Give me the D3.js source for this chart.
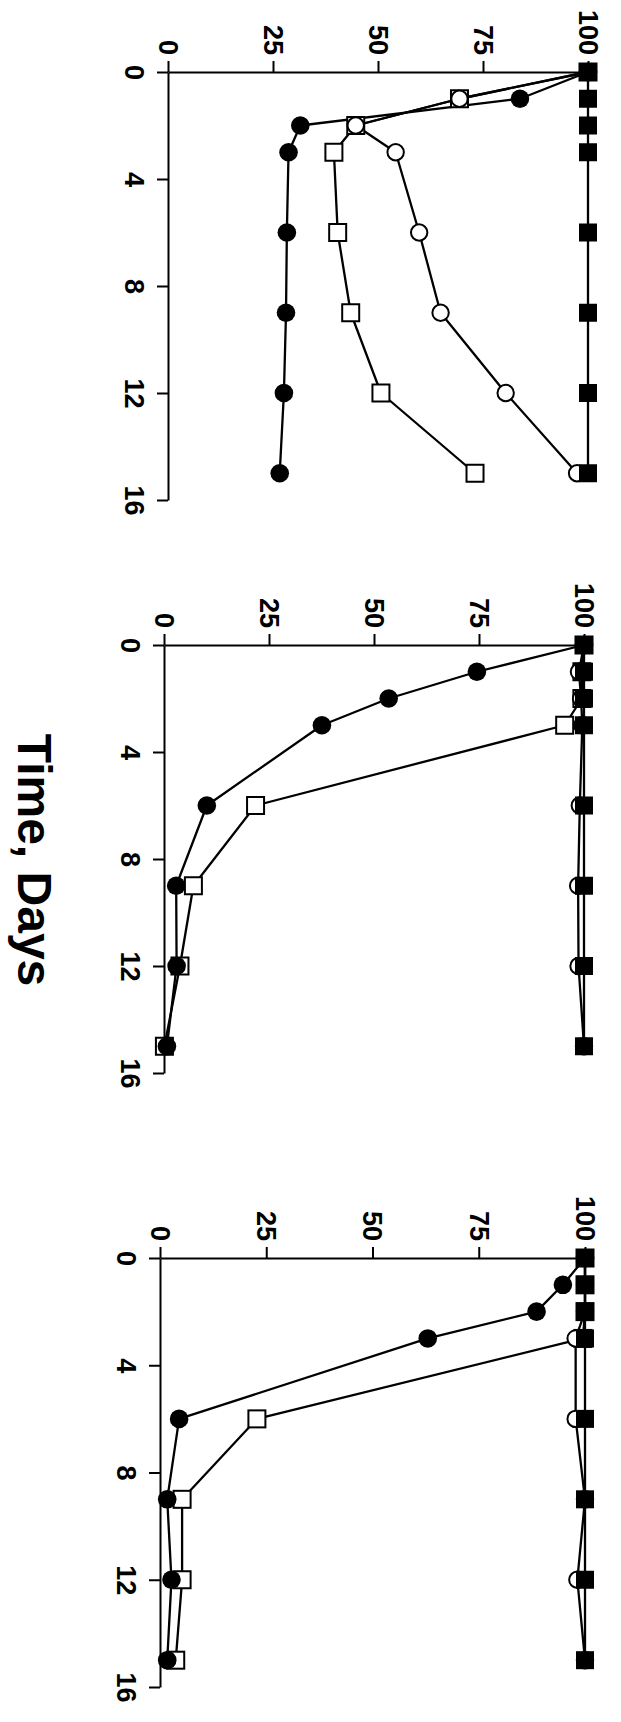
<!DOCTYPE html>
<html>
<head>
<meta charset="utf-8">
<script src="https://cdn.jsdelivr.net/npm/d3@7"></script>
<style>
  html, body { margin: 0; padding: 0; background: #fff; }
  svg { display: block; }
  text { font-family: "Liberation Sans", Arial, Helvetica, sans-serif; font-weight: bold; fill: #000; }
</style>
</head>
<body>
<script>
// ---- data ----
const times = [0, 1, 2, 3, 6, 9, 12, 15];
const valueTicks = [0, 25, 50, 75, 100];
const timeTicks = [0, 4, 8, 12, 16];
const axisTitle = "Time, Days";

// Panel 1 (top)
const p1FilledSquare = [100, 100, 100, 100, 100, 100, 100, 100];
const p1FilledCircle = [100, 83.8, 31.5, 28.7, 28.3, 28.1, 27.6, 26.6];
const p1OpenSquare   = [100, 69.4, 44.7, 39.5, 40.4, 43.5, 50.7, 73.1];
const p1OpenCircle   = [100, 69.4, 44.7, 54.2, 59.8, 64.9, 80.4, 97.4];

// Panel 2 (middle)
const p2FilledSquare = [100, 100, 100, 100, 100, 100, 100, 100];
const p2FilledCircle = [100, 74.5, 53.5, 37.6, 10.2, 2.9, 3.0, 0.7];
const p2OpenSquare   = [100, 99.5, 99.5, 95.4, 21.8, 7.0, 3.8, 0.1];
const p2OpenCircle   = [100, 98.8, 99.3, 99.6, 99.0, 98.6, 98.7, 100];

// Panel 3 (bottom)
const p3FilledSquare = [100, 100, 100, 100, 100, 100, 100, 100];
const p3FilledCircle = [100, 94.8, 88.6, 63.0, 4.5, 1.7, 2.7, 1.7];
const p3OpenSquare   = [100, 100, 100, 99.5, 22.8, 5.2, 5.2, 3.7];
const p3OpenCircle   = [100, 100, 100, 97.8, 97.8, 100, 98.2, 100];

// ---- layout ----
const W = 621, H = 1722;
const panels = [
  { box: { x0: 168, x1: 588, y0: 72,   y1: 500 },  fs: p1FilledSquare, fc: p1FilledCircle, os: p1OpenSquare, oc: p1OpenCircle },
  { box: { x0: 164, x1: 584, y0: 645,  y1: 1073 }, fs: p2FilledSquare, fc: p2FilledCircle, os: p2OpenSquare, oc: p2OpenCircle },
  { box: { x0: 160, x1: 585, y0: 1258, y1: 1687 }, fs: p3FilledSquare, fc: p3FilledCircle, os: p3OpenSquare, oc: p3OpenCircle }
];

const svg = d3.select("body").append("svg").attr("width", W).attr("height", H);

panels.forEach(p => {
  const b = p.box;
  const x = d3.scaleLinear().domain([0, 100]).range([b.x0, b.x1]);
  const y = d3.scaleLinear().domain([0, 16]).range([b.y0, b.y1]);
  const g = svg.append("g");

  // value axis (top)
  const xa = g.append("g").attr("transform", `translate(0,${b.y0})`)
    .call(d3.axisTop(x).tickValues(valueTicks).tickSize(11).tickSizeOuter(0).tickFormat(d3.format("d")));
  xa.select(".domain").attr("stroke", "#000").attr("stroke-width", 2);
  xa.selectAll(".tick line").attr("stroke", "#000").attr("stroke-width", 2);
  xa.selectAll(".tick text")
    .attr("x", 0).attr("y", 0).attr("dy", "0.36em")
    .attr("transform", "translate(0,-17) rotate(90)")
    .attr("text-anchor", "end")
    .style("font-size", "27px");

  // time axis (left)
  const ya = g.append("g").attr("transform", `translate(${b.x0},0)`)
    .call(d3.axisLeft(y).tickValues(timeTicks).tickSize(11).tickSizeOuter(0).tickFormat(d3.format("d")));
  ya.select(".domain").attr("stroke", "#000").attr("stroke-width", 2);
  ya.selectAll(".tick line").attr("stroke", "#000").attr("stroke-width", 2);
  ya.selectAll(".tick text")
    .attr("x", 0).attr("y", 0).attr("dy", "0.36em")
    .attr("transform", "translate(-33,0) rotate(90)")
    .attr("text-anchor", "middle")
    .style("font-size", "27px");

  const line = d3.line().x(d => x(d.v)).y(d => y(d.t));
  const series = [p.os, p.oc, p.fc, p.fs].map(arr => times.map((t, i) => ({ t, v: arr[i] })));

  // lines
  series.forEach(s => {
    g.append("path").datum(s).attr("d", line)
      .attr("fill", "none").attr("stroke", "#000").attr("stroke-width", 2.3).attr("stroke-linejoin", "round");
  });

  // markers: open squares, open circles, filled circles, filled squares
  g.selectAll(".os").data(series[0]).join("rect")
    .attr("x", d => x(d.v) - 8.5).attr("y", d => y(d.t) - 8.5)
    .attr("width", 17).attr("height", 17)
    .attr("fill", "#fff").attr("stroke", "#000").attr("stroke-width", 2);
  g.selectAll(".oc").data(series[1]).join("circle")
    .attr("cx", d => x(d.v)).attr("cy", d => y(d.t)).attr("r", 8.2)
    .attr("fill", "#fff").attr("stroke", "#000").attr("stroke-width", 2);
  g.selectAll(".fc").data(series[2]).join("circle")
    .attr("cx", d => x(d.v)).attr("cy", d => y(d.t)).attr("r", 9.3)
    .attr("fill", "#000");
  g.selectAll(".fs").data(series[3]).join("rect")
    .attr("x", d => x(d.v) - 9).attr("y", d => y(d.t) - 9)
    .attr("width", 18).attr("height", 18)
    .attr("fill", "#000");
});

// axis title
svg.append("text")
  .attr("transform", "translate(18,860) rotate(90)")
  .attr("text-anchor", "middle")
  .style("font-size", "48px")
  .text(axisTitle);
</script>
</body>
</html>
